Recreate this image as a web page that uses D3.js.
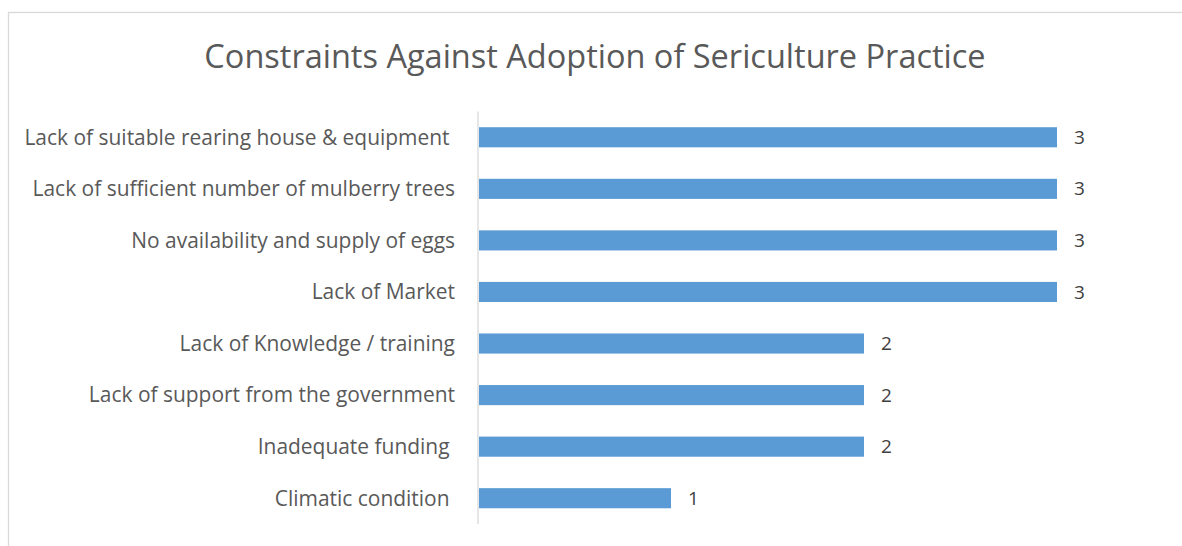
<!DOCTYPE html>
<html><head><meta charset="utf-8">
<script src="https://cdn.jsdelivr.net/npm/d3@7"></script>
<style>
html,body{margin:0;padding:0;background:#fff;}
svg text{white-space:pre;font-variant-ligatures:none;}
</style></head>
<body>
<script>
const categories = [
  "Lack of suitable rearing house & equipment ",
  "Lack of sufficient number of mulberry trees",
  "No availability and supply of eggs",
  "Lack of Market",
  "Lack of Knowledge / training",
  "Lack of support from the government",
  "Inadequate funding ",
  "Climatic condition "
];
const values = [3, 3, 3, 3, 2, 2, 2, 1];
const title = "Constraints Against Adoption of Sericulture Practice";

const W = 1182, H = 546;
const font = "'Open Sans', sans-serif";
const svg = d3.select("body").append("svg").attr("width", W).attr("height", H);

svg.append("rect").attr("x", 8.5).attr("y", 12.5).attr("width", W + 10).attr("height", H + 10)
  .attr("fill", "#fff").attr("stroke", "#d9d9d9").attr("stroke-width", 1.3);

svg.append("text").attr("x", 595).attr("y", 68).attr("text-anchor", "middle")
  .attr("font-family", font).attr("font-size", 32.5).attr("fill", "#595959").text(title);

const x = d3.scaleLinear().domain([0, 3]).range([478, 1057]);
const y = d3.scaleBand().domain(categories).range([111.5, 524]).paddingInner(0.61).paddingOuter(0.305);

svg.append("g").selectAll("rect").data(categories).join("rect")
  .attr("x", x(0) + 1).attr("y", d => y(d))
  .attr("width", (d, i) => x(values[i]) - x(0) - 1).attr("height", y.bandwidth())
  .attr("fill", "#5b9bd5");

svg.append("line").attr("x1", 478).attr("x2", 478).attr("y1", 111.5).attr("y2", 524)
  .attr("stroke", "#d9d9d9").attr("stroke-width", 1.3);

svg.append("g").selectAll("text").data(categories).join("text")
  .attr("x", 455).attr("y", d => y(d) + y.bandwidth() / 2).attr("dy", "0.35em")
  .attr("text-anchor", "end").attr("font-family", font).attr("font-size", 20.95)
  .attr("fill", "#595959").text(d => d);

svg.append("g").selectAll("text").data(categories).join("text")
  .attr("x", (d, i) => x(values[i]) + 17).attr("y", d => y(d) + y.bandwidth() / 2).attr("dy", "0.35em")
  .attr("font-family", font).attr("font-size", 19).attr("fill", "#404040")
  .text((d, i) => values[i]);
</script>
</body></html>
